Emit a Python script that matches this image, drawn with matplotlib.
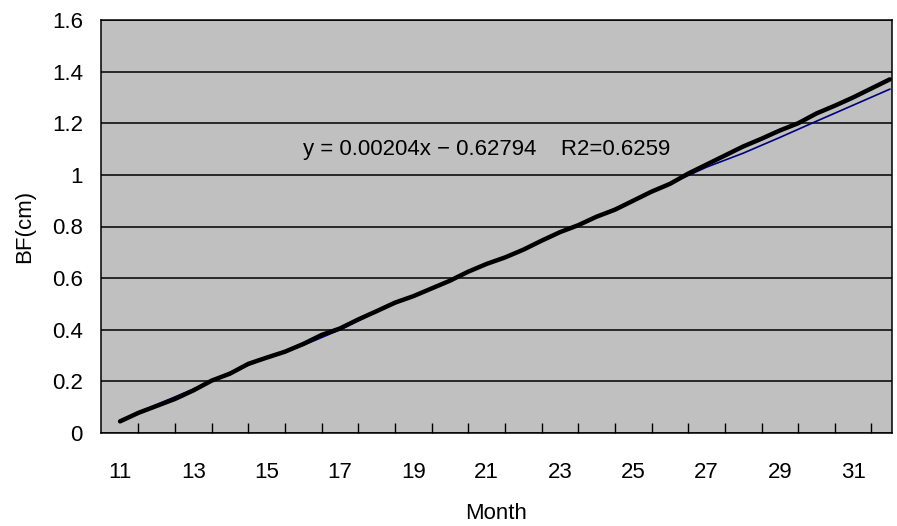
import numpy as np
import matplotlib.pyplot as plt
from matplotlib.ticker import FixedLocator

# measured series (black, every half month)
months = np.arange(11, 32.5, 0.5)
bf = [0.045, 0.078, 0.105, 0.132, 0.165, 0.203, 0.230, 0.268, 0.292, 0.315,
      0.345, 0.380, 0.405, 0.440, 0.472, 0.505, 0.530, 0.560, 0.590, 0.625,
      0.655, 0.680, 0.710, 0.745, 0.778, 0.805, 0.838, 0.865, 0.900, 0.935,
      0.965, 1.005, 1.040, 1.075, 1.110, 1.140, 1.172, 1.200, 1.238, 1.268,
      1.300, 1.335, 1.370]

# fitted series (blue, monthly)
fit_months = np.arange(11, 33)
fit = [0.050, 0.110, 0.170, 0.235, 0.290, 0.340, 0.400, 0.470, 0.530, 0.590,
       0.655, 0.710, 0.775, 0.840, 0.900, 0.965, 1.030, 1.084, 1.145, 1.208,
       1.270, 1.332]

eq_text = "y = 0.00204x \u2212 0.62794    R2=0.6259"
tick_labels = [str(m) for m in range(11, 32, 2)]

plt.rcParams['font.family'] = ['Liberation Sans', 'DejaVu Sans']

fig = plt.figure(figsize=(8.97, 5.26), dpi=100)
ax = fig.add_axes([101 / 897, 93 / 526, 791 / 897, 413 / 526])
ax.set_facecolor('#c0c0c0')

ax.plot(fit_months, fit, color='#000080', lw=1.2, zorder=3)
ax.plot(months, bf, color='black', lw=3.2, solid_capstyle='round', zorder=4)

ax.set_xlim(10.48, 32.06)
ax.set_ylim(0, 1.6)
ax.set_yticks(np.arange(0, 1.61, 0.2))
ax.set_yticklabels(['0', '0.2', '0.4', '0.6', '0.8', '1', '1.2', '1.4', '1.6'])
ax.yaxis.grid(True, color='black', lw=1.1)
ax.set_axisbelow(True)
ax.tick_params(axis='y', length=0, pad=13, labelsize=16)

ax.set_xticks(range(11, 32, 2))
ax.set_xticklabels(tick_labels)
ax.xaxis.set_minor_locator(FixedLocator(np.arange(11.5, 32, 1.0)))
ax.tick_params(axis='x', which='major', length=0, pad=21, labelsize=16)
ax.tick_params(axis='x', which='minor', direction='in', length=7, width=1)

for s in ax.spines.values():
    s.set_color('black')
    s.set_linewidth(1.1)

ax.text(21, 1.097, eq_text, ha='center', va='center', fontsize=16)
ax.set_xlabel('Month', fontsize=16, labelpad=14)
ax.set_ylabel('BF(cm)', fontsize=16, labelpad=12)

plt.savefig('out.png', dpi=100)
plt.close()
